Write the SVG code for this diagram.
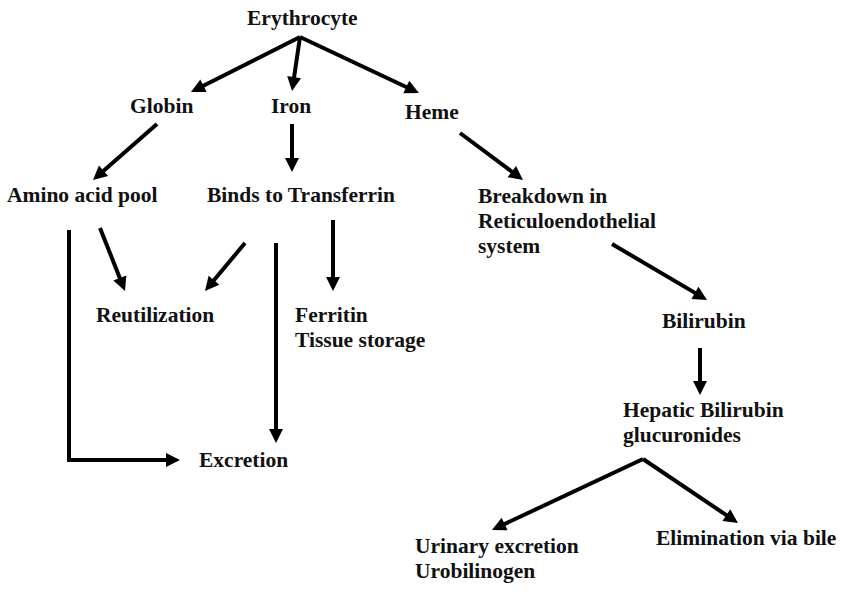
<svg xmlns="http://www.w3.org/2000/svg" width="842" height="592" viewBox="0 0 842 592">
<style>
text{font-family:"Liberation Serif","Times New Roman",serif;font-weight:bold;font-size:21.5px;fill:#111}
.c path,.c line,.c polyline{stroke:#000;stroke-width:4;fill:none;marker-end:url(#ah)}
</style>
<defs>
<marker id="ah" markerUnits="userSpaceOnUse" markerWidth="16" markerHeight="14" refX="4" refY="7" orient="auto" overflow="visible">
<path d="M0,0 L14,7 L0,14 z" fill="#000"/>
</marker>
</defs>
<rect width="842" height="592" fill="#fff"/>
<g id="connectors" class="c">
<line x1="300" y1="37" x2="199.9" y2="87.5"/>
<line x1="300" y1="37" x2="293.5" y2="81.1"/>
<line x1="300" y1="37" x2="409.9" y2="88.7"/>
<line x1="157" y1="124" x2="100.5" y2="173.4"/>
<line x1="292" y1="124" x2="292" y2="162"/>
<line x1="460" y1="133" x2="515" y2="174"/>
<line x1="100" y1="228" x2="121.3" y2="281.7"/>
<line x1="245" y1="243" x2="211.4" y2="283.3"/>
<line x1="276" y1="243" x2="276" y2="433"/>
<line x1="333" y1="220" x2="333" y2="281"/>
<polyline points="69,230 69,460 170,460"/>
<line x1="612" y1="244" x2="698.4" y2="294.9"/>
<line x1="700" y1="348" x2="700" y2="385"/>
<line x1="643" y1="459" x2="501" y2="525.7"/>
<line x1="643" y1="459" x2="729.7" y2="517.4"/>
</g>
<g id="erythrocyte"><text x="247" y="25">Erythrocyte</text></g>
<g id="globin"><text x="130" y="113">Globin</text></g>
<g id="iron"><text x="271" y="113">Iron</text></g>
<g id="heme"><text x="405" y="119">Heme</text></g>
<g id="amino"><text x="7" y="202">Amino acid pool</text></g>
<g id="binds"><text x="207" y="202">Binds to Transferrin</text></g>
<g id="breakdown"><text x="478" y="203">Breakdown in</text><text x="478" y="228">Reticuloendothelial</text><text x="478" y="253">system</text></g>
<g id="reutilization"><text x="96" y="322">Reutilization</text></g>
<g id="ferritin"><text x="295" y="322">Ferritin</text><text x="295" y="347">Tissue storage</text></g>
<g id="excretion"><text x="199" y="467">Excretion</text></g>
<g id="bilirubin"><text x="662" y="328">Bilirubin</text></g>
<g id="hepatic"><text x="623" y="417">Hepatic Bilirubin</text><text x="623" y="442">glucuronides</text></g>
<g id="urinary"><text x="415" y="553">Urinary excretion</text><text x="415" y="578">Urobilinogen</text></g>
<g id="elimination"><text x="656" y="545">Elimination via bile</text></g>
</svg>
